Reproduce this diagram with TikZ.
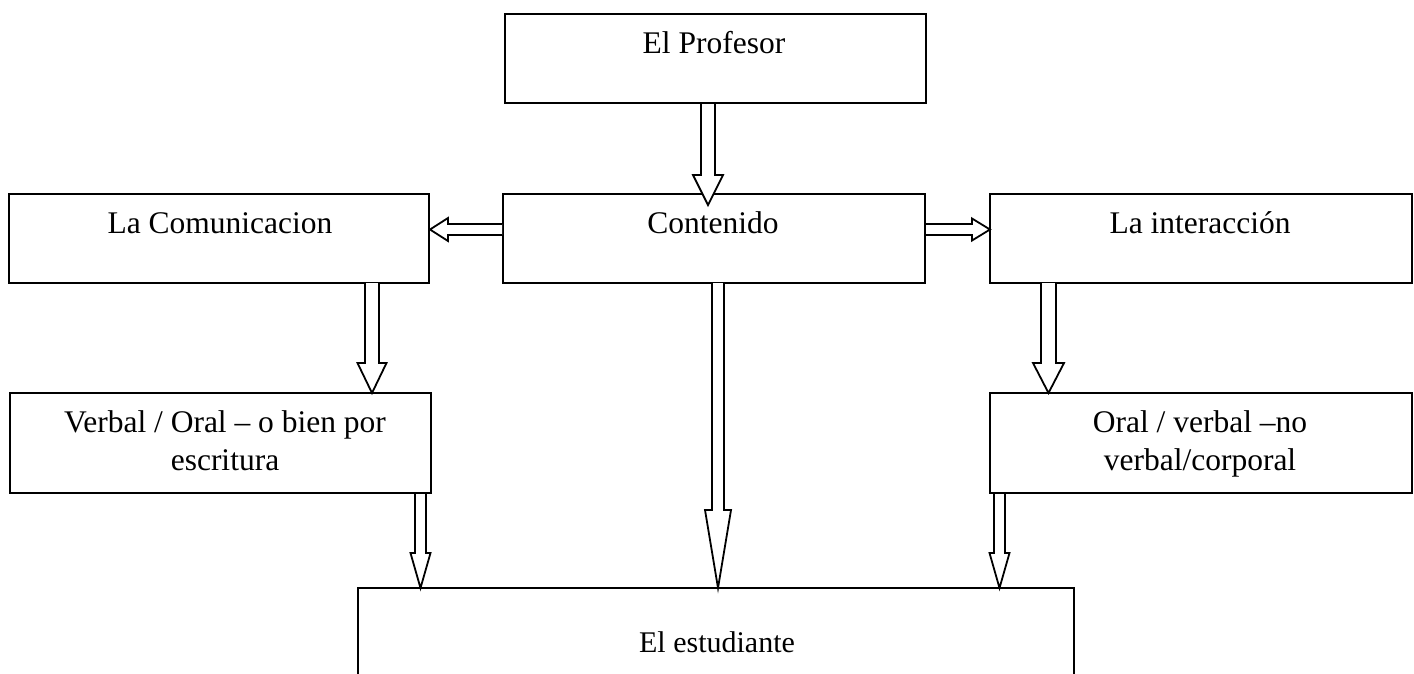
\documentclass[tikz,border=0pt]{standalone}
\usepackage{fontspec}
\setmainfont{Liberation Serif}
\begin{document}
\begin{tikzpicture}[x=1pt,y=-1pt,
  box/.style={draw,line width=2pt,rectangle,inner sep=0pt},
  txt/.style={inner sep=0pt,anchor=base,font=\fontsize{31.5}{30}\selectfont},
  small/.style={inner sep=0pt,anchor=base,font=\fontsize{30}{30}\selectfont},
  barrow/.style={draw,fill=white,line width=1.8pt,line join=miter}]
\useasboundingbox (0,0) rectangle (1414,673);
\clip (0,0) rectangle (1414,673);
% boxes
\node[box,minimum width=421pt,minimum height=89pt] (prof) at (715.5,58.5) {};
\node[box,minimum width=422pt,minimum height=89pt] (cont) at (714,238) {};
\node[box,minimum width=420pt,minimum height=89pt] (com) at (219,238) {};
\node[box,minimum width=422pt,minimum height=89pt] (inter) at (1201,238) {};
\node[box,minimum width=421pt,minimum height=100pt] (verb) at (220.5,443) {};
\node[box,minimum width=422pt,minimum height=100pt] (oral) at (1201,443) {};
\node[box,minimum width=716pt,minimum height=140pt] (est) at (716,658) {};
% texts
\node[txt] (tprof) at (714,53) {El Profesor};
\node[txt] (tcont) at (713,233) {Contenido};
\node[txt] (tcom) at (220,233) {La Comunicacion};
\node[txt] (tinter) at (1200,233) {La interacción};
\node[txt] (tverb1) at (225,432) {Verbal / Oral -- o bien por};
\node[txt] (tverb2) at (225,470) {escritura};
\node[txt] (toral1) at (1200,432) {Oral / verbal --no};
\node[txt] (toral2) at (1200,470) {verbal/corporal};
\node[small] (test) at (717,652) {El estudiante};
% block arrows
\newcommand{\bdown}[6]{% cx, s, h, y0, yh, y1
  \draw[barrow] (#1-#2,#4)--(#1-#2,#5)--(#1-#3,#5)--(#1,#6)--(#1+#3,#5)--(#1+#2,#5)--(#1+#2,#4);}
\newcommand{\bhoriz}[6]{% cy, s, h, x0, xh, x1
  \draw[barrow] (#4,#1-#2)--(#5,#1-#2)--(#5,#1-#3)--(#6,#1)--(#5,#1+#3)--(#5,#1+#2)--(#4,#1+#2);}
\bdown{708}{7}{15}{104}{175}{205}
\bhoriz{229.5}{5.5}{11.5}{502}{448}{430}
\bhoriz{229.5}{5.5}{11}{926}{972}{990}
\bdown{372}{7}{14.5}{283}{363}{393}
\bdown{718}{6}{13}{283}{510}{588}
\bdown{420.5}{5.5}{10}{494}{553}{588}
\bdown{999.5}{5.5}{10}{494}{553}{588}
\bdown{1048.5}{7.5}{15.5}{283}{363}{393}
\end{tikzpicture}
\end{document}
